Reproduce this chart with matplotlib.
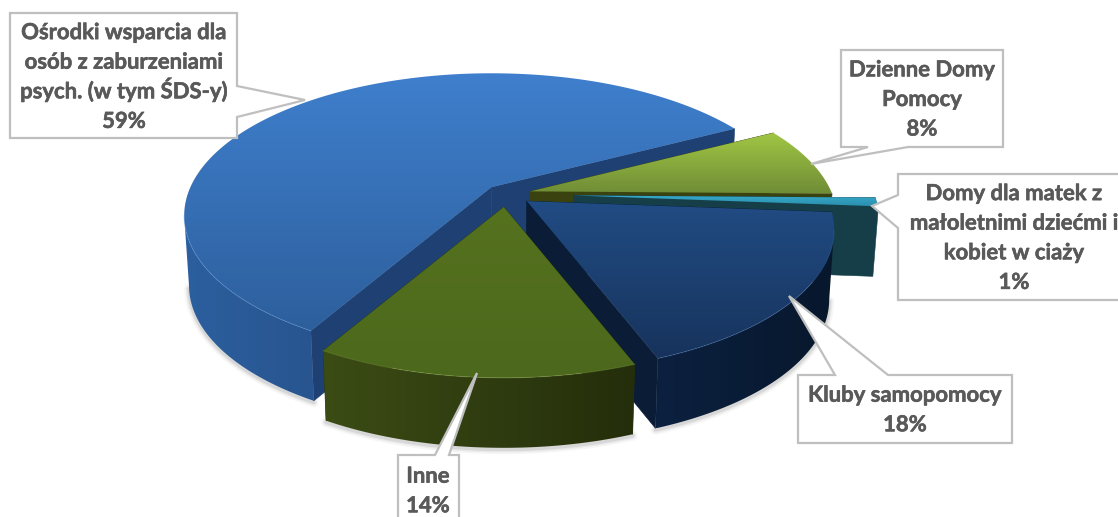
import numpy as np
import matplotlib
matplotlib.use('Agg')
import matplotlib.pyplot as plt
import matplotlib.patheffects as pe
from matplotlib.colors import LinearSegmentedColormap
from matplotlib.patches import Polygon

plt.rcParams['font.family'] = ['Lato', 'DejaVu Sans']

# data
names = ['Ośrodki wsparcia dla\nosób z zaburzeniami\npsych. (w tym ŚDS-y)',
         'Dzienne Domy\nPomocy',
         'Domy dla matek z\nmałoletnimi dziećmi i\nkobiet w ciaży',
         'Kluby samopomocy',
         'Inne']
values = [59, 8, 1, 18, 14]
explode = [24, 26, 67, 23, 23]

# colours: top face (back, front), side (left, right), wall
top_colors = [('#3f7fcd', '#2d5f9c'), ('#a0c644', '#6f8c36'), ('#36a9ca', '#2b8fae'),
              ('#214c84', '#17335c'), ('#55721f', '#4c681c')]
side_colors = [('#2c5f9f', '#28558f'), ('#3a4410', '#3a4410'), ('#14404a', '#123a44'),
               ('#0c2140', '#07172c'), ('#3c4c15', '#242e0b')]
wall_colors = ['#1e4072', '#3a4310', '#153e49', '#0a1c36', '#2a350d']
rim_colors = ['#5a93d8', '#b8d668', '#5cc0dc', '#3a6aa8', '#7d9a3c']

# projection of the pie
cx, cy = 506, 194
R = 301
squash = 0.454
persp = 0.2
depth = 70
shrink = 0.985
start = 119.7


def project(theta, r, off, bottom=False):
    t = np.radians(theta)
    u, v = np.cos(t), np.sin(t)
    s = 1 / (1 - persp * v)
    x = off[0] + r * R * u * s
    y = off[1] + r * R * squash * v * s
    if bottom:
        return cx + x * shrink, cy + y + depth
    return cx + x, cy + y


def off_for(mid, e):
    t = np.radians(mid)
    s = 1 / (1 - persp * np.sin(t))
    return e * np.cos(t) * s, e * squash * np.sin(t) * s


def gradient_fill(xs, ys, colors, horizontal, z, name):
    # polygon filled with a two colour gradient, clipped by the polygon itself
    poly = Polygon(np.column_stack([xs, ys]), closed=True, fc='none', ec='none')
    ax.add_patch(poly)
    cmap = LinearSegmentedColormap.from_list(name, list(colors))
    grad = np.linspace(0, 1, 256).reshape(1, -1) if horizontal else np.linspace(0, 1, 256).reshape(-1, 1)
    im = ax.imshow(grad, cmap=cmap, aspect='auto', origin='upper', interpolation='bilinear',
                   extent=(min(xs), max(xs), max(ys), min(ys)), zorder=z)
    im.set_clip_path(poly)


fig = plt.figure(figsize=(11.18, 5.17), dpi=100)
ax = fig.add_axes([0, 0, 1, 1])
z = 10

fracs = np.array(values) / sum(values) * 360
a0 = start + np.concatenate([[0], np.cumsum(fracs)[:-1]])
a1 = a0 + fracs

# soft shadow under the pie
for i in range(len(values)):
    off = off_for((a0[i] + a1[i]) / 2, explode[i])
    th = np.linspace(a0[i], a1[i], 120)
    th = th[np.sin(np.radians(th)) > persp]
    if len(th) > 1:
        x, y = project(th, 1, off, bottom=True)
        for lw, al in [(7, 0.05), (4.5, 0.08), (2.5, 0.12)]:
            ax.plot(x, y + 1.5, color='#555555', alpha=al, lw=lw, zorder=1, solid_capstyle='round')

for i in range(len(values)):
    mid = (a0[i] + a1[i]) / 2
    off = off_for(mid, explode[i])

    # radial walls
    for a in (a0[i], a1[i]):
        x1, y1 = project(a, 0, off)
        x2, y2 = project(a, 1, off)
        x3, y3 = project(a, 1, off, bottom=True)
        x4, y4 = project(a, 0, off, bottom=True)
        ax.add_patch(Polygon([(x1, y1), (x2, y2), (x3, y3), (x4, y4)], closed=True,
                             fc=wall_colors[i], ec=wall_colors[i], lw=0.4, zorder=z))
        z += 1

    # outer side, the rim silhouette turns where sin = persp
    th = np.linspace(a0[i], a1[i], max(int(fracs[i] * 2), 6))
    front = th[np.sin(np.radians(th)) > persp]
    if len(front) > 1:
        xt, yt = project(front, 1, off)
        xb, yb = project(front, 1, off, bottom=True)
        gradient_fill(np.r_[xt, xb[::-1]], np.r_[yt, yb[::-1]], side_colors[i], True, z, 'side%d' % i)
        z += 1

    # top face
    px, py = project(th, 1, off)
    ax_, ay_ = project(a0[i], 0, off)
    gradient_fill(np.r_[ax_, px], np.r_[ay_, py], top_colors[i], False, z, 'top%d' % i)
    z += 1

    # light rim on the front edge
    vis = np.sin(np.radians(th)) > persp
    if vis.sum() > 1:
        ax.plot(px[vis], py[vis], color=rim_colors[i], lw=0.8, alpha=0.35, zorder=z)
        z += 1

# callouts: box corners and tail (base, tip, base)
boxes = [(10, 13, 237, 138), (841, 50, 1003, 147), (898, 174, 1130, 300), (798, 375, 1012, 443), (398, 455, 459, 530)]
tails = [[(237, 86), (305, 100), (237, 117)],
         [(868, 147), (811, 164), (908, 147)],
         [(898, 195), (872, 206), (898, 228)],
         [(835, 375), (789, 296), (888, 375)],
         [(435, 455), (477, 373), (449, 455)]]
text_pos = [(124, 76), (922, 98.5), (1014, 237), (905, 409), (428, 490)]
line_pitch = 29.6
edge = '#bfbfbf'
text_color = '#595959'

for i in range(len(names)):
    x0, y0, x1, y1 = boxes[i]
    t = tails[i]
    if t[0][0] == x1:
        pts = [(x0, y0), (x1, y0), t[0], t[1], t[2], (x1, y1), (x0, y1)]
    elif t[0][0] == x0:
        pts = [(x0, y0), (x1, y0), (x1, y1), (x0, y1), t[2], t[1], t[0]]
    elif t[0][1] == y0:
        pts = [(x0, y0), t[0], t[1], t[2], (x1, y0), (x1, y1), (x0, y1)]
    else:
        pts = [(x0, y0), (x1, y0), (x1, y1), t[2], t[1], t[0], (x0, y1)]
    ax.add_patch(Polygon(pts, closed=True, fc='white', ec=edge, lw=1.6, zorder=z, joinstyle='miter'))
    z += 1
    # one text per line so that the pitch stays even
    lines = names[i].split('\n') + ['%d%%' % values[i]]
    for k, line in enumerate(lines):
        yy = text_pos[i][1] + 7.5 + (k - (len(lines) - 1) / 2) * line_pitch
        ax.text(text_pos[i][0], yy, line, ha='center', va='baseline', fontsize=15.9, fontweight='bold',
                color=text_color, zorder=z,
                path_effects=[pe.withStroke(linewidth=0.4, foreground=text_color)])
    z += 1

ax.set_xlim(0, 1118)
ax.set_ylim(517, 0)
ax.axis('off')
fig.savefig('out.png', dpi=100, facecolor='white')
